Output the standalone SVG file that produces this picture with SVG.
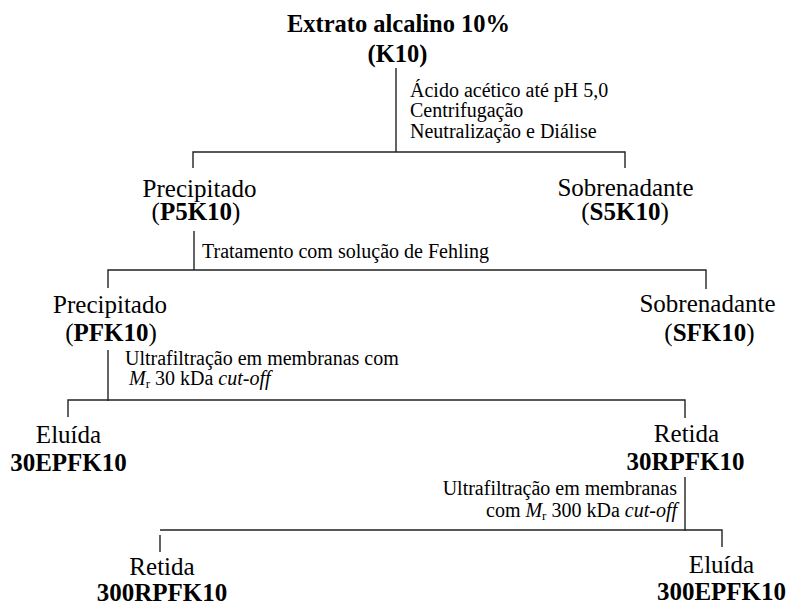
<svg xmlns="http://www.w3.org/2000/svg" width="790" height="607" viewBox="0 0 790 607" font-family="'Liberation Serif', 'DejaVu Serif', serif">
  <style>
    text { font-family: 'Liberation Serif', 'DejaVu Serif', serif; fill: #000; }
    .node { font-size: 25px; text-anchor: middle; }
    .title { font-size: 24.5px; font-weight: bold; text-anchor: middle; }
    .code { font-weight: bold; }
    .note { font-size: 20px; }
    .end { text-anchor: end; }
    .it { font-style: italic; }
    .sub { font-size: 13px; font-style: normal; }
    .wire { stroke: #222; stroke-width: 1.4; fill: none; }
  </style>
  <rect width="790" height="607" fill="#fff"/>

  <!-- connectors and step annotations -->
  <g id="connectors">
    <path class="wire" d="M396 68V152 M193 168V152H625V168"/>
    <path class="wire" d="M194 231V270 M108 288V270H706V289"/>
    <path class="wire" d="M108 350V401 M68 417V400H685V418"/>
    <path class="wire" d="M685 477V531 M160 552V535 M160 530H722V547"/>

    <g class="note">
      <text x="410" y="97">Ácido acético até pH 5,0</text>
      <text x="410" y="117">Centrifugação</text>
      <text x="410" y="138">Neutralização e Diálise</text>
      <text x="202" y="258">Tratamento com solução de Fehling</text>
      <text x="125" y="365">Ultrafiltração em membranas com</text>
      <text x="129" y="385"><tspan class="it">M</tspan><tspan class="sub" dy="3">r</tspan><tspan dy="-3"> 30 kDa </tspan><tspan class="it">cut-off</tspan></text>
      <text class="end" x="677" y="495">Ultrafiltração em membranas</text>
      <text class="end" x="677" y="517">com <tspan class="it">M</tspan><tspan class="sub" dy="3">r</tspan><tspan dy="-3"> 300 kDa </tspan><tspan class="it">cut-off</tspan></text>
    </g>
  </g>

  <g id="k10">
    <text class="title" x="398.5" y="32">Extrato alcalino 10%</text>
    <text class="title" x="397.5" y="62">(K10)</text>
  </g>

  <g id="p5k10">
    <text class="node" x="199.5" y="197">Precipitado</text>
    <text class="node" x="196" y="220">(<tspan class="code">P5K10</tspan>)</text>
  </g>

  <g id="s5k10">
    <text class="node" x="625.5" y="196">Sobrenadante</text>
    <text class="node" x="625" y="220">(<tspan class="code">S5K10</tspan>)</text>
  </g>

  <g id="pfk10">
    <text class="node" x="110" y="313">Precipitado</text>
    <text class="node" x="111" y="341">(<tspan class="code">PFK10</tspan>)</text>
  </g>

  <g id="sfk10">
    <text class="node" x="707.5" y="312">Sobrenadante</text>
    <text class="node" x="709.5" y="341">(<tspan class="code">SFK10</tspan>)</text>
  </g>

  <g id="e30">
    <text class="node" x="68.5" y="443">Eluída</text>
    <text class="node code" x="68.5" y="471">30EPFK10</text>
  </g>

  <g id="r30">
    <text class="node" x="686.5" y="442">Retida</text>
    <text class="node code" x="685.5" y="470">30RPFK10</text>
  </g>

  <g id="r300">
    <text class="node" x="162" y="575">Retida</text>
    <text class="node code" x="162" y="601">300RPFK10</text>
  </g>

  <g id="e300">
    <text class="node" x="721.5" y="573">Eluída</text>
    <text class="node code" x="721.5" y="600">300EPFK10</text>
  </g>
</svg>
